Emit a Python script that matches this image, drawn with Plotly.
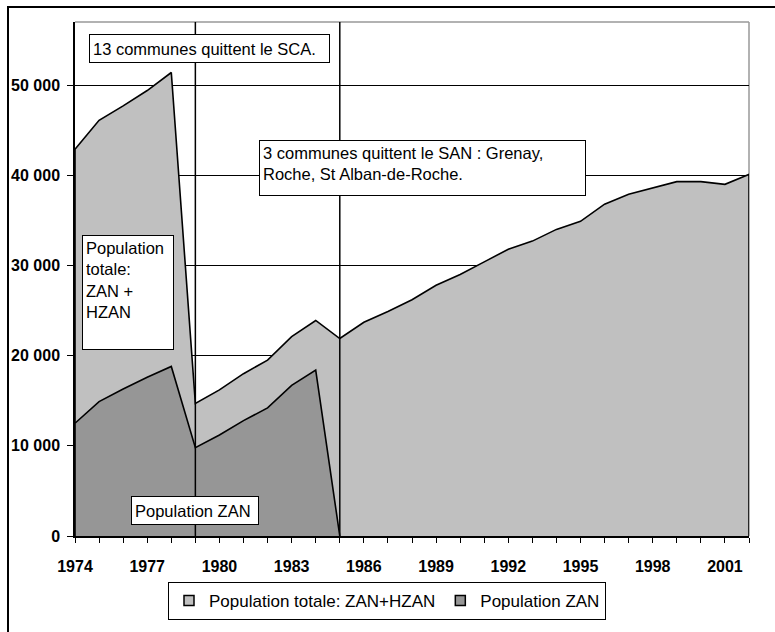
import plotly.graph_objects as go

# Population series, one value per year
years = list(range(1974, 2003))
total_pop = [42900, 46100, 47700, 49400, 51400, 14700, 16200, 18000, 19500, 22100,
             23900, 21900, 23700, 24900, 26200, 27800, 29000, 30400, 31800, 32700,
             34000, 34900, 36800, 37900, 38600, 39300, 39300, 39000, 40100]
zan_pop = [12500, 14900, 16300, 17600, 18800, 9800, 11200, 12800, 14200, 16700,
           18400, 0]
zan_years = years[:len(zan_pop)]

event_years = [1979, 1985]

x_tick_vals = list(range(1974, 2002, 3))
y_tick_vals = [0, 10000, 20000, 30000, 40000, 50000]
y_tick_text = ["0", "10 000", "20 000", "30 000", "40 000", "50 000"]

series_names = ["Population totale: ZAN+HZAN", "Population ZAN"]
series_colors = ["#C0C0C0", "#969696"]

# Page geometry (pixels)
W, H = 775, 632
PL, PR, PT, PB = 75, 749, 22, 540
FONT = "Liberation Sans, Arial, sans-serif"


def px_x(p):
    return (p - PL) / (PR - PL)


def px_y(p):
    return (PB - p) / (PB - PT)


fig = go.Figure()

# filled areas, closed down to zero on both ends so the outline includes the edges
fig.add_trace(go.Scatter(
    x=[years[0]] + years + [years[-1]],
    y=[0] + total_pop + [0],
    mode="lines", fill="toself", fillcolor=series_colors[0],
    line=dict(color="black", width=1.6),
    name=series_names[0], showlegend=False, hoverinfo="skip",
))
fig.add_trace(go.Scatter(
    x=[zan_years[0]] + zan_years + [zan_years[-1]],
    y=[0] + zan_pop + [0],
    mode="lines", fill="toself", fillcolor=series_colors[1],
    line=dict(color="black", width=1.6),
    name=series_names[1], showlegend=False, hoverinfo="skip",
))

# square legend keys
for name, color in zip(series_names, series_colors):
    fig.add_trace(go.Scatter(
        x=[None], y=[None], mode="markers", name=name,
        marker=dict(symbol="square", size=10, color=color,
                    line=dict(color="black", width=1.5)),
    ))

shapes = []
# light frame on the top and right of the plotting area
shapes.append(dict(type="line", xref="paper", yref="paper", x0=0, x1=1, y0=1, y1=1,
                   line=dict(color="#999999", width=1.5), layer="below"))
shapes.append(dict(type="line", xref="paper", yref="paper", x0=1, x1=1, y0=0, y1=1,
                   line=dict(color="#999999", width=1.5), layer="below"))
# vertical markers for the years when communes left
for yr in event_years:
    shapes.append(dict(type="line", xref="x", yref="paper", x0=yr, x1=yr, y0=0, y1=1,
                       line=dict(color="black", width=1.5), layer="above"))
# outer chart border
shapes.append(dict(type="rect", xref="paper", yref="paper",
                   x0=px_x(8), x1=px_x(800), y0=px_y(660), y1=px_y(7),
                   line=dict(color="black", width=2), fillcolor="rgba(0,0,0,0)",
                   layer="below"))


def note(text, left, top, right, bottom, valign="top"):
    pad = 3
    return dict(
        text=text, showarrow=False, xref="paper", yref="paper",
        x=px_x(left), y=px_y(top), xanchor="left", yanchor="top",
        align="left", valign=valign,
        width=(right - left) - 2 * (pad + 1), height=(bottom - top) - 2 * (pad + 1),
        bgcolor="white", bordercolor="black", borderwidth=1, borderpad=pad,
        font=dict(family=FONT, size=16.5, color="black"),
    )


annotations = [
    note("13 communes quittent le SCA.", 89, 34, 330, 63, valign="middle"),
    note("3 communes quittent le SAN : Grenay,<br>Roche, St Alban-de-Roche.", 259, 141, 586, 197),
    note("Population<br>totale:<br>ZAN +<br>HZAN", 82, 237, 174, 352),
    note("Population ZAN", 131, 500, 259, 529, valign="middle"),
]

fig.update_layout(
    width=W, height=H, autosize=False,
    margin=dict(l=PL, r=W - PR, t=PT, b=H - PB, pad=0),
    paper_bgcolor="white", plot_bgcolor="white",
    font=dict(family=FONT, size=16, color="black"),
    showlegend=True,
    legend=dict(
        orientation="h", x=px_x(387), y=px_y(605.5), xanchor="center", yanchor="middle",
        bordercolor="black", borderwidth=1, bgcolor="white",
        font=dict(family=FONT, size=17, color="black"),
        itemwidth=30, traceorder="normal", itemclick=False, itemdoubleclick=False,
    ),
    xaxis=dict(
        range=[years[0], years[-1]], tickmode="array", tickvals=x_tick_vals,
        ticks="outside", ticklen=5, tickcolor="black", tickwidth=1,
        showline=True, linecolor="black", linewidth=1.5,
        showgrid=False, zeroline=False,
        tickfont=dict(family=FONT, size=16, color="black", weight="bold"),
        ticklabelstandoff=10,
        minor=dict(tickvals=years, ticks="outside", ticklen=5, tickcolor="black",
                   tickwidth=1, showgrid=False),
    ),
    yaxis=dict(
        range=[0, 57000], tickmode="array", tickvals=y_tick_vals, ticktext=y_tick_text,
        ticks="outside", ticklen=6, tickcolor="black", tickwidth=1,
        showline=True, linecolor="black", linewidth=1.5,
        showgrid=True, gridcolor="black", gridwidth=1, zeroline=False,
        tickfont=dict(family=FONT, size=16, color="black", weight="bold"),
        ticklabelstandoff=4,
    ),
    shapes=shapes,
    annotations=annotations,
)

fig.write_html("out.html")
